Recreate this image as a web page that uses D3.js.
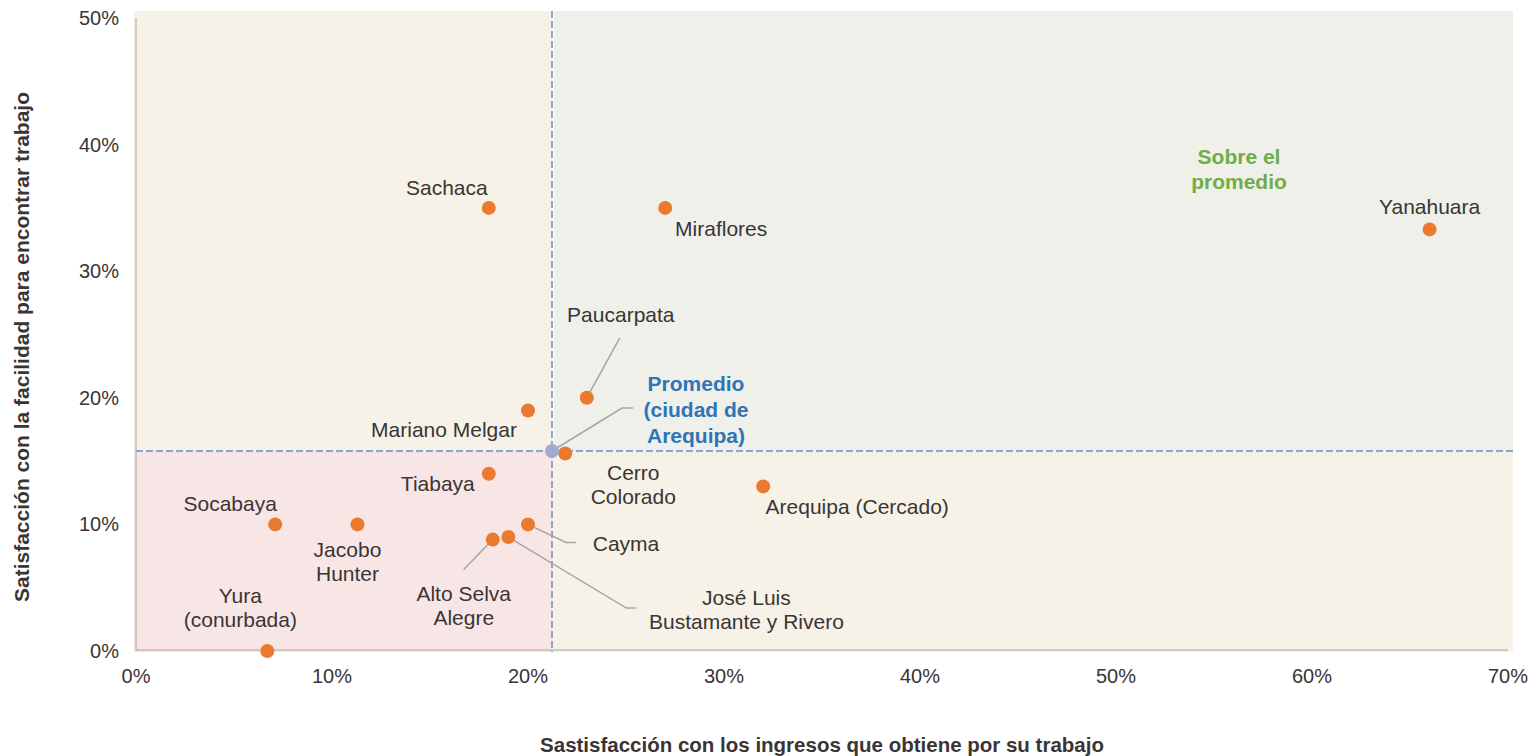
<!DOCTYPE html>
<html>
<head>
<meta charset="utf-8">
<script src="https://cdn.jsdelivr.net/npm/d3@7"></script>
<style>
  body { margin: 0; background: #fff; }
  text { font-family: "Liberation Sans", Arial, sans-serif; fill: #3a3535; }
</style>
</head>
<body>
<div id="chart"></div>
<script>
// data
var districts = ["Sachaca", "Miraflores", "Yanahuara", "Paucarpata", "Mariano Melgar", "Cerro Colorado",
  "Tiabaya", "Arequipa (Cercado)", "Socabaya", "Jacobo Hunter", "Cayma", "Alto Selva Alegre",
  "José Luis Bustamante y Rivero", "Yura (conurbada)"];
var ingresos = [18.0, 27.0, 66.0, 23.0, 20.0, 21.9, 18.0, 32.0, 7.1, 11.3, 20.0, 18.2, 19.0, 6.7];
var facilidad = [35.0, 35.0, 33.3, 20.0, 19.0, 15.6, 14.0, 13.0, 10.0, 10.0, 10.0, 8.8, 9.0, 0.0];
var promedio = [21.2, 15.8];
var xTicks = [0, 10, 20, 30, 40, 50, 60, 70];
var yTicks = [0, 10, 20, 30, 40, 50];

// label layout: lines, offset from point (px), optional leader elbow
var labels = [
  {lines: ["Sachaca"], dx: -42, dy: -20},
  {lines: ["Miraflores"], dx: 56, dy: 21},
  {lines: ["Yanahuara"], dx: 0, dy: -22},
  {lines: ["Paucarpata"], dx: 34, dy: -83, leader: [[33, -60]]},
  {lines: ["Mariano Melgar"], dx: -84, dy: 20},
  {lines: ["Cerro", "Colorado"], dx: 68, dy: 31},
  {lines: ["Tiabaya"], dx: -51, dy: 10},
  {lines: ["Arequipa (Cercado)"], dx: 94, dy: 21},
  {lines: ["Socabaya"], dx: -45, dy: -20},
  {lines: ["Jacobo", "Hunter"], dx: -10, dy: 38},
  {lines: ["Cayma"], dx: 98, dy: 20, leader: [[38, 18], [48, 18]]},
  {lines: ["Alto Selva", "Alegre"], dx: -29, dy: 66, leader: [[-29, 30]]},
  {lines: ["José Luis", "Bustamante y Rivero"], dx: 238, dy: 73, leader: [[118, 71], [128, 71]]},
  {lines: ["Yura", "(conurbada)"], dx: -27, dy: -43}
];

var W = 1532, H = 756;
var x = d3.scaleLinear().domain([0, 70]).range([136, 1508]);
var y = d3.scaleLinear().domain([0, 50]).range([651, 18]);

var svg = d3.select("#chart").append("svg")
  .attr("width", W)
  .attr("height", H);

var ax = Math.round(x(promedio[0])), ay = Math.round(y(promedio[1]));
var pLeft = x(0) - 2, pRight = x(70) + 5, pTop = y(50) - 7, pBottom = y(0) + 1;

// quadrant backgrounds
var quads = [
  [pLeft, pTop, ax, ay, "#f6f2e7"],
  [ax + 2, pTop, pRight, ay, "#eef0e9"],
  [pLeft, ay, ax, pBottom, "#f8e5e5"],
  [ax, ay, pRight, pBottom, "#f6f2e7"]
];
svg.selectAll("rect.quad")
  .data(quads)
  .enter().append("rect")
  .attr("class", "quad")
  .attr("x", function(d){ return d[0]; })
  .attr("y", function(d){ return d[1]; })
  .attr("width", function(d){ return d[2] - d[0]; })
  .attr("height", function(d){ return d[3] - d[1]; })
  .attr("fill", function(d){ return d[4]; });

// axis lines
svg.append("line")
  .attr("x1", x(0)).attr("x2", x(0))
  .attr("y1", y(50)).attr("y2", y(0))
  .attr("stroke", "#c4bcae").attr("stroke-width", 1.5);
svg.append("line")
  .attr("x1", x(0)).attr("x2", x(70))
  .attr("y1", y(0) - 1).attr("y2", y(0) - 1)
  .attr("stroke", "#c4bcae").attr("stroke-width", 1.5);

// tick labels
svg.selectAll("text.xt")
  .data(xTicks)
  .enter().append("text")
  .attr("class", "xt")
  .attr("x", function(d){ return x(d); })
  .attr("y", 683)
  .attr("text-anchor", "middle")
  .style("font-size", "20px")
  .text(function(d){ return d + "%"; });

svg.selectAll("text.yt")
  .data(yTicks)
  .enter().append("text")
  .attr("class", "yt")
  .attr("x", 119)
  .attr("y", function(d){ return y(d) + 7; })
  .attr("text-anchor", "end")
  .style("font-size", "20px")
  .text(function(d){ return d + "%"; });

// average dashed lines
svg.append("line")
  .attr("x1", ax).attr("x2", ax)
  .attr("y1", pTop).attr("y2", pBottom)
  .attr("stroke", "#8fa3d3").attr("stroke-width", 2)
  .attr("stroke-dasharray", "7,3");
svg.append("line")
  .attr("x1", x(0)).attr("x2", pRight)
  .attr("y1", ay).attr("y2", ay)
  .attr("stroke", "#8fa3d3").attr("stroke-width", 2)
  .attr("stroke-dasharray", "7,3");

// leader lines
labels.forEach(function(l, i){
  if (!l.leader) return;
  var px = x(ingresos[i]), py = y(facilidad[i]);
  var pts = [[px, py]].concat(l.leader.map(function(p){ return [px + p[0], py + p[1]]; }));
  svg.append("path")
    .attr("d", d3.line()(pts))
    .attr("fill", "none")
    .attr("stroke", "#a6a6a6")
    .attr("stroke-width", 1.5);
});
// promedio leader
svg.append("path")
  .attr("d", d3.line()([[ax, ay], [ax + 70, ay - 43], [ax + 81, ay - 43]]))
  .attr("fill", "none")
  .attr("stroke", "#a6a6a6")
  .attr("stroke-width", 1.5);

// points
svg.selectAll("circle.pt")
  .data(districts)
  .enter().append("circle")
  .attr("class", "pt")
  .attr("cx", function(d, i){ return x(ingresos[i]); })
  .attr("cy", function(d, i){ return y(facilidad[i]); })
  .attr("r", 7)
  .attr("fill", "#ea7a30");

svg.append("circle")
  .attr("cx", ax).attr("cy", ay)
  .attr("r", 7)
  .attr("fill", "#9eabd2");

// district labels
var g = svg.selectAll("g.lab")
  .data(labels)
  .enter().append("g")
  .attr("class", "lab")
  .attr("transform", function(d, i){
    return "translate(" + (x(ingresos[i]) + d.dx) + "," + (y(facilidad[i]) + d.dy) + ")";
  });
g.each(function(d){
  var t = d3.select(this).append("text")
    .attr("text-anchor", "middle")
    .style("font-size", "21px");
  d.lines.forEach(function(s, k){
    t.append("tspan").attr("x", 0).attr("y", k * 24 - (d.lines.length - 1) * 12 + 7).text(s);
  });
});

// annotations
var prom = svg.append("text")
  .attr("text-anchor", "middle")
  .style("font-size", "21px")
  .style("font-weight", "bold")
  .style("fill", "#2e75b6");
["Promedio", "(ciudad de", "Arequipa)"].forEach(function(s, k){
  prom.append("tspan").attr("x", 696).attr("y", 391 + k * 26).text(s);
});

var sobre = svg.append("text")
  .attr("text-anchor", "middle")
  .style("font-size", "21px")
  .style("font-weight", "bold")
  .style("fill", "#70ad47");
["Sobre el", "promedio"].forEach(function(s, k){
  sobre.append("tspan").attr("x", 1239).attr("y", 164 + k * 25).text(s);
});

// axis titles
svg.append("text")
  .attr("x", 822).attr("y", 752)
  .attr("text-anchor", "middle")
  .style("font-size", "20.5px")
  .style("font-weight", "bold")
  .text("Sastisfacción con los ingresos que obtiene por su trabajo");

svg.append("text")
  .attr("transform", "translate(29,347) rotate(-90)")
  .attr("text-anchor", "middle")
  .style("font-size", "21px")
  .style("font-weight", "bold")
  .text("Satisfacción con la facilidad para encontrar trabajo");
</script>
</body>
</html>
